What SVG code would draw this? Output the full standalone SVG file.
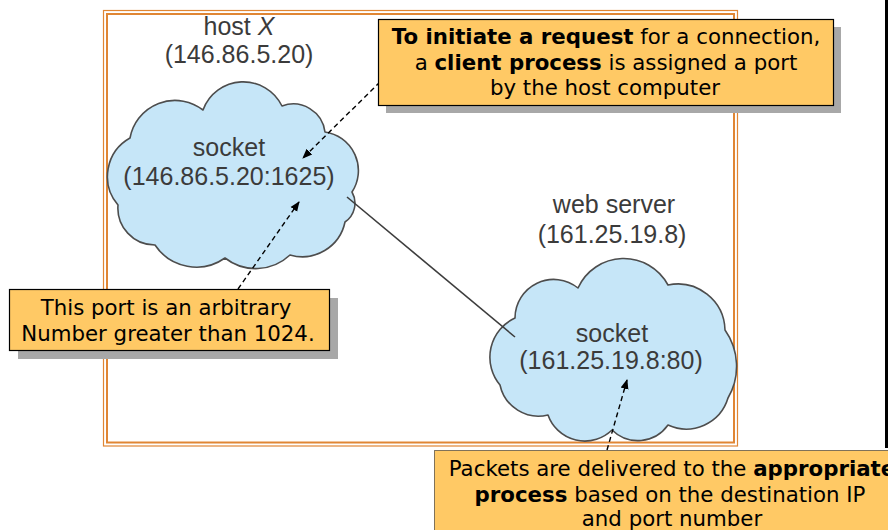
<svg xmlns="http://www.w3.org/2000/svg" width="888" height="530" viewBox="0 0 888 530">
  <style>
    .label { font-family: "Liberation Sans", Arial, sans-serif; font-size: 25px; fill: #3b3b3b; text-anchor: middle; }
    .note { font-family: "DejaVu Sans", Verdana, sans-serif; font-size: 21.3px; fill: #000; text-anchor: middle; }
    .b { font-weight: bold; }
    .cloud { fill: #c6e6f8; stroke: #4d4d4d; stroke-width: 1.6; stroke-linejoin: round; }
    .box { fill: #ffc965; stroke: #000; stroke-width: 1.2; }
    .shadow { fill: #a8a8a8; }
    .frame { fill: none; stroke: #e08634; }
    .pointer { fill: none; stroke: #000; stroke-width: 1.4; stroke-dasharray: 5 3.5; marker-end: url(#head); }
    .link { stroke: #3d3d3d; stroke-width: 1.6; }
  </style>
  <defs>
    <marker id="head" viewBox="0 0 10 10" refX="9" refY="5" markerWidth="10" markerHeight="10" markerUnits="userSpaceOnUse" orient="auto">
      <path d="M0,1 L10,5 L0,9 z" fill="#000"/>
    </marker>
  </defs>

  <rect width="888" height="530" fill="#fff"/>
  <!-- dark edge strip on the right -->
  <rect x="885" y="0" width="3" height="448" fill="#000"/>

  <!-- double frame -->
  <g id="frame">
    <rect class="frame" x="103.5" y="10.5" width="634" height="435.5" stroke-width="1.2" stroke="#eba565"/>
    <rect class="frame" x="107" y="14" width="627" height="428.5" stroke-width="2"/>
  </g>

  <!-- client host -->
  <g id="host-x">
    <text class="label" x="239" y="35">host <tspan font-style="italic">X</tspan></text>
    <text class="label" x="239" y="63">(146.86.5.20)</text>
    <path class="cloud" d="M118,205 A44,44 0 0 1 130,138 A45.7,45.7 0 0 1 203,110 A43,43 0 0 1 282,106 A32,32 0 0 1 325,132 A39,39 0 0 1 352,192 A22.7,22.7 0 0 1 345,222 A43.7,43.7 0 0 1 290,255 A50,50 0 0 1 225,258 A49.7,49.7 0 0 1 155,245 A37,37 0 0 1 118,205 Z"/>
    <text class="label" x="229" y="156">socket</text>
    <text class="label" x="229" y="185">(146.86.5.20:1625)</text>
  </g>

  <!-- web server -->
  <g id="web-server">
    <text class="label" x="614" y="213">web server</text>
    <text class="label" x="612" y="243">(161.25.19.8)</text>
    <path class="cloud" d="M500,385 A43.2,43.2 0 0 1 515,318 A38.7,38.7 0 0 1 578,288 A50.2,50.2 0 0 1 668,285 A47.3,47.3 0 0 1 725,330 A62.8,62.8 0 0 1 728,398 A43.6,43.6 0 0 1 668,425 A36.9,36.9 0 0 1 612,430 A39,39 0 0 1 548,415 A39.4,39.4 0 0 1 500,385 Z"/>
    <text class="label" x="612" y="342">socket</text>
    <text class="label" x="611" y="369">(161.25.19.8:80)</text>
  </g>

  <!-- connection and pointers -->
  <g id="connectors">
    <line class="link" x1="347" y1="197" x2="515" y2="337"/>
    <path class="pointer" d="M380,82 L303,158"/>
    <path class="pointer" d="M238,289 L299,202"/>
    <path class="pointer" d="M607,450 L627,380"/>
  </g>

  <!-- callouts -->
  <g id="note-request">
    <rect class="shadow" x="386" y="27" width="455" height="86"/>
    <rect class="box" x="378.5" y="19.5" width="455" height="86"/>
    <text class="note" x="606" y="44"><tspan class="b">To initiate a request</tspan> for a connection,</text>
    <text class="note" x="606" y="70">a <tspan class="b">client process</tspan> is assigned a port</text>
    <text class="note" x="605" y="95">by the host computer</text>
  </g>

  <g id="note-port">
    <rect class="shadow" x="18" y="298" width="320" height="61"/>
    <rect class="box" x="9.5" y="289.5" width="320" height="61"/>
    <text class="note" x="166" y="315">This port is an arbitrary</text>
    <text class="note" x="168" y="341">Number greater than 1024.</text>
  </g>

  <g id="note-delivery">
    <rect x="434.5" y="450.5" width="470" height="90" fill="#ffc965" stroke="#000" stroke-width="1" stroke-dasharray="1 1"/>
    <text class="note" x="672" y="476">Packets are delivered to the <tspan class="b">appropriate</tspan></text>
    <text class="note" x="670" y="502"><tspan class="b">process</tspan> based on the destination IP</text>
    <text class="note" x="672" y="526">and port number</text>
  </g>
</svg>
